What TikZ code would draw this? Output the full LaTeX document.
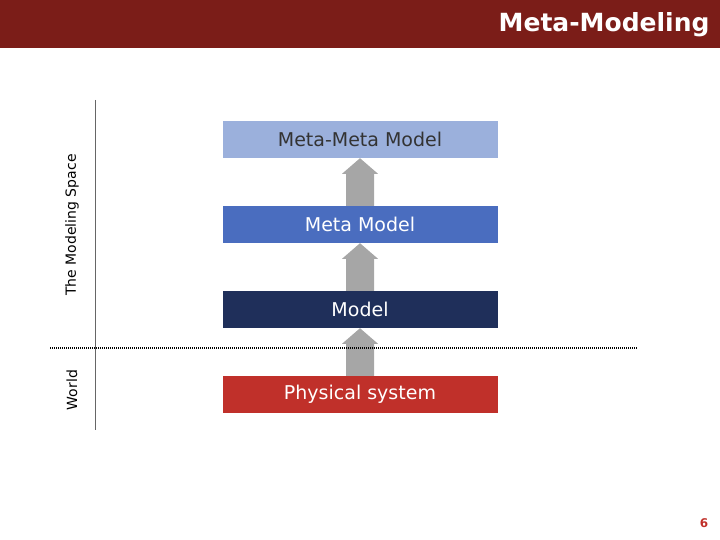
\documentclass[tikz,border=0pt]{standalone}
\usepackage{fontspec}
\setmainfont{DejaVu Sans}
\begin{document}
\begin{tikzpicture}[x=1pt,y=-1pt,
  box/.style={minimum width=275pt,minimum height=37pt,inner sep=0pt,font=\fontsize{19}{20}\selectfont},
  up/.style={fill=black!35,draw=none}]
\useasboundingbox (0,0) rectangle (720,540);
\fill[fill={rgb,255:red,123;green,29;blue,24}] (0,0) rectangle (720,48);
\node[anchor=east,text=white,font=\bfseries\fontsize{25}{27}\selectfont] (title) at (713,25) {Meta-Modeling};
\node[box,fill={rgb,255:red,155;green,176;blue,220},text=black!80] (mm) at (360,139.5) {Meta-Meta Model};
\node[box,fill={rgb,255:red,74;green,109;blue,191},text=white] (m) at (360,224.5) {Meta Model};
\node[box,fill={rgb,255:red,31;green,47;blue,90},text=white] (mo) at (360,309.5) {Model};
\node[box,fill={rgb,255:red,192;green,48;blue,42},text=white] (p) at (360,394.5) {Physical system};
\foreach \a/\b in {p/mo,mo/m,m/mm}{
  \fill[up] ([xshift=-14pt]\a.north) -- ([xshift=-14pt,yshift=32pt]\a.north) -- ([xshift=-18pt,yshift=32pt]\a.north)
   -- (\b.south) -- ([xshift=18pt,yshift=32pt]\a.north) -- ([xshift=14pt,yshift=32pt]\a.north) -- ([xshift=14pt]\a.north) -- cycle;}
\draw[black!60,line width=0.8pt] (95,100) coordinate (v1) -- (95,430) coordinate (v2);
\draw[black,line width=1.5pt,dash pattern=on 1.2pt off 0.8pt] (50,348) coordinate (h1) -- (637,348) coordinate (h2);
\node[rotate=90,font=\fontsize{14}{15}\selectfont] (space) at (72,225) {The Modeling Space};
\node[rotate=90,font=\fontsize{14}{15}\selectfont] (world) at (72,390) {World};
\node[text={rgb,255:red,192;green,48;blue,42},font=\bfseries\fontsize{12}{13}\selectfont] (pg) at (704,523) {6};
\end{tikzpicture}
\end{document}
